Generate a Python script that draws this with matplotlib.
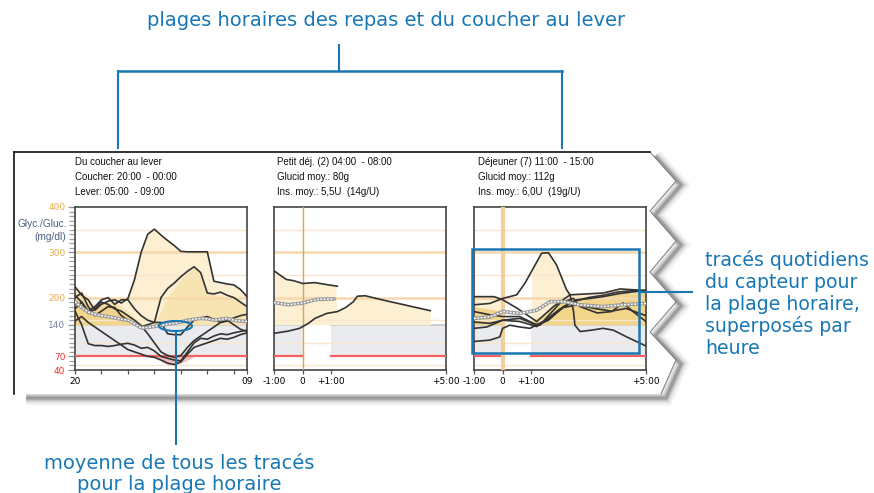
import numpy as np
import matplotlib
matplotlib.use("Agg")
import matplotlib.pyplot as plt
from matplotlib.patches import Ellipse, Rectangle, Polygon

# ---------------- data ----------------
# Overnight window: hours after 20:00 (20:00 -> 09:00)
night_x = [0, 0.5, 1, 1.5, 2, 2.5, 3, 3.5, 4, 4.5, 5, 5.5, 6, 6.5, 7, 7.5, 8, 8.5,
           9, 9.5, 10, 10.5, 11, 11.5, 12, 12.5, 13]
night_traces = [
    [224, 205, 195, 172, 185, 192, 195, 188, 198, 240, 300, 340, 351, 338, 326, 315, 302, 301,
     301, 301, 301, 236, 233, 230, 228, 218, 202],
    [205, 190, 170, 180, 195, 200, 185, 195, 195, 175, 160, 150, 145, 200, 220, 232, 246, 258,
     268, 255, 210, 208, 212, 205, 200, 190, 180],
    [170, 140, 98, 94, 94, 92, 94, 97, 99, 95, 88, 90, 82, 70, 66, 62, 60, 80,
     100, 110, 108, 115, 120, 118, 122, 125, 128],
    [148, 158, 145, 135, 125, 115, 105, 95, 85, 80, 75, 70, 68, 62, 55, 52, 58, 75,
     90, 95, 100, 105, 110, 108, 112, 118, 122],
    [175, 190, 165, 175, 190, 185, 175, 170, 160, 150, 138, 120, 100, 80, 72, 68, 72, 90,
     105, 115, 125, 135, 145, 150, 140, 130, 125],
    [200, 210, 180, 160, 170, 180, 178, 160, 150, 140, 135, 140, 145, 145, 120, 118, 118, 135,
     150, 155, 158, 152, 145, 148, 155, 160, 163],
]
night_mean = [191, 178, 168, 163, 160, 158, 155, 152, 150, 142, 133, 134, 136, 139, 141, 143, 146, 150,
              152, 154, 153, 150, 152, 154, 150, 148, 147]
night_outer = [224, 215, 205, 185, 190, 195, 195, 193, 198, 240, 300, 340, 351, 338, 326, 315, 302, 301,
               301, 301, 301, 236, 233, 230, 228, 218, 202]
night_mid = [215, 200, 190, 178, 185, 190, 188, 180, 170, 155, 145, 140, 140, 170, 200, 220, 240, 255,
             265, 255, 210, 205, 205, 200, 195, 190, 175]
night_inner_x = [0, 0.5, 1, 1.5, 2, 2.5, 3, 3.5, 4, 4.5]
night_inner = [210, 195, 185, 172, 180, 186, 182, 172, 160, 148]
night_low_x = [6, 6.5, 7, 7.5, 8, 8.5, 9]
night_low = [70, 60, 52, 50, 55, 62, 70]

# Breakfast window: hours relative to meal
bk_traces = [
    ([-1, -0.8, -0.57, -0.3, 0, 0.2, 0.43, 0.8, 1.21],
     [259, 250, 240, 237, 231, 232, 233, 229, 225]),
    ([-1, -0.5, -0.11, 0.2, 0.43, 0.84, 1.21, 1.5, 1.77, 1.91, 2.18, 2.7, 3.4, 4.1, 4.45],
     [121, 126, 132, 143, 154, 165, 169, 178, 191, 203, 204, 196, 186, 176, 171]),
]
bk_mean_x = [-1, -0.7, -0.5, 0, 0.5, 1.1]
bk_mean = [189, 186, 184, 188, 196, 197]
bk_band_x = [-1, -0.57, 0, 0.43, 1.15, 1.2, 1.5, 1.77, 1.91, 2.18, 2.7, 3.4, 4.1, 4.45]
bk_outer = [259, 240, 231, 233, 226, 169, 178, 191, 203, 204, 196, 186, 176, 171]

# Lunch window: hours relative to meal
ln_traces = [
    ([-1, -0.45, 0, 0.49, 0.78, 1.07, 1.36, 1.6, 1.88, 2.23, 2.35, 2.47, 2.52, 2.7, 3.1, 3.5, 3.86, 4.33, 5],
     [184, 187, 198, 206, 232, 265, 298, 299, 272, 217, 206, 170, 139, 125, 128, 132, 128, 113, 93]),
    ([-1, -0.3, 0, 0.49, 1.19, 1.77, 2.35, 3.5, 4.1, 4.6, 5],
     [202, 202, 195, 177, 147, 180, 206, 210, 219, 217, 216]),
    ([-1, -0.45, 0, 0.6, 1.07, 1.3, 2.0, 2.47, 2.7, 3.3, 3.8, 4.2, 4.55, 5],
     [169, 162, 158, 158, 143, 139, 188, 198, 180, 166, 169, 188, 169, 147]),
    ([-1, -0.55, 0, 0.6, 1.19, 1.6, 2.12, 2.58, 3.05, 3.5, 4.1, 5],
     [132, 135, 150, 154, 139, 150, 180, 195, 198, 202, 209, 216]),
    ([-1, -0.45, -0.1, 0, 0.25, 0.6, 0.95, 1.2, 1.5, 2.0, 2.5, 3.0, 3.5, 4.0, 4.5, 5],
     [103, 106, 113, 132, 139, 135, 132, 140, 150, 175, 192, 200, 205, 212, 215, 214]),
    ([-1, -0.45, 0, 0.6, 1.19, 1.54, 2.12, 2.6, 3.2, 3.8, 4.3, 5],
     [146, 143, 150, 147, 136, 150, 178, 184, 176, 170, 176, 160]),
]
ln_mean_x = [-1, -0.45, 0, 0.6, 1.19, 1.65, 2.12, 2.7, 3.5, 4.2, 5]
ln_mean = [154, 157, 169, 165, 172, 191, 191, 184, 180, 184, 187]
ln_band_x = [-1, -0.5, 0, 1.0, 1.36, 1.6, 1.88, 2.23, 2.5, 3.0, 3.5, 4.1, 4.6, 5]
ln_outer = [200, 200, 198, 255, 298, 299, 272, 217, 208, 210, 212, 219, 218, 216]
ln_inner = [180, 175, 170, 150, 160, 172, 185, 195, 198, 200, 203, 208, 210, 212]

meal_segments = [(-1, 0), (1, 5)]
target_low, target_high = 70, 140
y_ticks = [40, 70, 140, 200, 300, 400]
y_tick_colors = ["#f0302a", "#f0302a", "#7482a6", "#e8a847", "#e8a847", "#e8a847"]

headers = [
    ["Du coucher au lever", "Coucher: 20:00  - 00:00", "Lever: 05:00  - 09:00"],
    ["Petit déj. (2) 04:00  - 08:00", "Glucid moy.: 80g", "Ins. moy.: 5,5U  (14g/U)"],
    ["Déjeuner (7) 11:00  - 15:00", "Glucid moy.: 112g", "Ins. moy.: 6,0U  (19g/U)"],
]

# ---------------- styles ----------------
W, H = 874, 493
BLUE = "#1877b5"
LIGHT_Y = "#fcefd2"
MID_Y = "#f7e4b2"
DARK_Y = "#f2d48a"
GRAY_BAND = "#e9ebee"
TRACE = "#333333"

fig = plt.figure(figsize=(W / 100, H / 100), dpi=100)
fig.patch.set_facecolor("white")


def px_axes(zorder):
    a = fig.add_axes([0, 0, 1, 1], zorder=zorder)
    a.set_xlim(0, W)
    a.set_ylim(H, 0)
    a.axis("off")
    a.patch.set_alpha(0)
    return a


bg = px_axes(0)
fg = px_axes(10)

# torn paper sheet with drop shadow
zig = [(650, 152), (676, 181), (650, 211), (676, 241), (650, 272), (676, 302),
       (650, 332), (676, 360), (661, 394)]
shadow = [(p[0] + 5, p[1] + 4) for p in zig] + [(26, 398)]
sx, sy = zip(*shadow)
for lw, al in [(11, 0.05), (8, 0.08), (5.5, 0.12), (3.5, 0.18), (2, 0.22)]:
    bg.plot(sx, sy, color="#404040", lw=lw, alpha=al, solid_joinstyle="miter",
            solid_capstyle="butt", zorder=1)
paper = [(14, 152)] + zig + [(14, 394)]
bg.add_patch(Polygon(paper, closed=True, facecolor="white", edgecolor="none", zorder=2))
zx, zy = zip(*zig)
bg.plot(zx, zy, color="#7a7a7a", lw=0.7, zorder=3)
bg.plot([14, 650], [152, 152], color="#111111", lw=1.2, zorder=3)
bg.plot([14, 14], [152, 394], color="#111111", lw=1.2, zorder=3)

# chart panels
panel_px = [(75, 247), (274, 446), (474, 646)]
top_px, bot_px = 207, 370
axes = []
for (l, r) in panel_px:
    a = fig.add_axes([l / W, 1 - bot_px / H, (r - l) / W, (bot_px - top_px) / H], zorder=5)
    a.set_ylim(40, 400)
    for s in a.spines.values():
        s.set_color("#444444")
        s.set_linewidth(1.2)
    axes.append(a)

ax1, ax2, ax3 = axes


def grid(a):
    for v in [50, 100, 150, 250, 350]:
        a.axhline(v, color="#fbe5cc", lw=1.0, zorder=2.5)
    for v in [200, 300]:
        a.axhline(v, color="#f6d7ae", lw=1.8, zorder=2.5)


def mean_line(a, x, y):
    a.plot(x, y, color="#9a9a9a", lw=2.6, zorder=6, solid_capstyle="round")
    a.plot(x, y, color="white", lw=1.1, ls=(0, (1.2, 1.0)), zorder=7)


def band(a, x, hi, color, z, lo=None):
    x = np.array(x, dtype=float)
    hi = np.maximum(np.array(hi, dtype=float), target_high)
    a.fill_between(x, target_high, hi, color=color, lw=0, zorder=z)


# overnight panel
ax1.set_xlim(0, 13)
ax1.axhspan(target_low, target_high, color=GRAY_BAND, zorder=1, lw=0)
ax1.axhline(target_high, color="#c9cbce", lw=1.3, zorder=1.5)
band(ax1, night_x, night_outer, LIGHT_Y, 2)
band(ax1, night_x, night_mid, MID_Y, 2.1)
band(ax1, night_inner_x, night_inner, DARK_Y, 2.2)
ax1.fill_between(night_low_x, night_low, target_low, color="#f3bdbd", lw=0, zorder=2)
grid(ax1)
ax1.axhline(target_low, color="#f26060", lw=1.6, zorder=3)
for tr in night_traces:
    ax1.plot(night_x, tr, color=TRACE, lw=1.2, zorder=5)
mean_line(ax1, night_x, night_mean)
ax1.set_xticks([0, 2, 4, 6, 8, 10, 12, 13])
ax1.set_xticklabels(["20", "", "", "", "", "", "", "09"])
ax1.set_yticks(y_ticks)
ax1.set_yticklabels([str(v) for v in y_ticks])
for lbl, c in zip(ax1.get_yticklabels(), y_tick_colors):
    lbl.set_color(c)
ax1.set_yticks(np.arange(40, 401, 10), minor=True)
ax1.tick_params(axis="y", which="minor", length=4, width=0.9, color="#a0a0a0", left=True)
ax1.tick_params(axis="y", which="major", length=5, width=0.9, color="#909090", labelsize=6.5, pad=2)


def split(x, y, s0, s1):
    x = np.array(x, dtype=float)
    y = np.array(y, dtype=float)
    xs = np.concatenate([[s0], x[(x > s0) & (x < s1)], [s1]])
    return xs, np.interp(xs, x, y)


def meal_panel(a, traces, mx, my, bx, outer, inner=None, split_bands=False,
               line0="#e0a24f", lw0=1.0):
    a.set_xlim(-1, 5)
    for s0, s1 in meal_segments:
        a.fill_between([s0, s1], target_low, target_high, color=GRAY_BAND, lw=0, zorder=1)
        a.plot([s0, s1], [target_high, target_high], color="#c9cbce", lw=1.3, zorder=1.5)
        a.plot([s0, s1], [target_low, target_low], color="#f26060", lw=1.6, zorder=3)
    layers = [(outer, LIGHT_Y, 2)] + ([(inner, DARK_Y, 2.1)] if inner is not None else [])
    for hi, col, z in layers:
        if split_bands:
            for s0, s1 in meal_segments:
                xs, ys = split(bx, hi, s0, s1)
                band(a, xs, ys, col, z)
        else:
            band(a, bx, hi, col, z)
    grid(a)
    a.axvline(0, color=line0, lw=lw0, zorder=3)
    for x, y in traces:
        a.plot(x, y, color=TRACE, lw=1.2, zorder=5)
    mean_line(a, mx, my)
    a.set_xticks([-1, 0, 1, 5])
    a.set_xticklabels(["-1:00", "0", "+1:00", "+5:00"])
    a.set_yticks([])


meal_panel(ax2, bk_traces, bk_mean_x, bk_mean, bk_band_x, bk_outer)
meal_panel(ax3, ln_traces, ln_mean_x, ln_mean, ln_band_x, ln_outer, ln_inner,
           split_bands=True, line0="#f3cf9c", lw0=3)

for a in axes:
    a.tick_params(axis="x", length=3, width=0.9, color="#555555", labelsize=6.5, pad=2)

# panel headers
head_x = [75, 277, 478]
for hx, lines in zip(head_x, headers):
    for i, t in enumerate(lines):
        fg.text(hx, 162 + 14.8 * i, t, fontsize=7, color="#111111", va="center", ha="left",
                family="Liberation Sans")

fg.text(67, 224, "Glyc./Gluc.", fontsize=7.3, color="#4b6285", ha="right", va="center",
        family="Liberation Sans")
fg.text(66, 237, "(mg/dl)", fontsize=7.3, color="#4b6285", ha="right", va="center",
        family="Liberation Sans")

# callouts
fg.text(386, 21, "plages horaires des repas et du coucher au lever", fontsize=14, color=BLUE,
        ha="center", va="center", family="DejaVu Sans")
fg.plot([339, 339], [45, 71], color=BLUE, lw=1.5)
fg.plot([118, 562], [71, 71], color=BLUE, lw=1.8)
fg.plot([118, 118], [71, 148], color=BLUE, lw=1.5)
fg.plot([562, 562], [71, 148], color=BLUE, lw=1.5)

fg.add_patch(Rectangle((472, 249), 166.5, 103.5, fill=False, edgecolor=BLUE, lw=1.8))
fg.plot([638.5, 692], [292, 292], color=BLUE, lw=1.5)
right_lines = ["tracés quotidiens", "du capteur pour", "la plage horaire,", "superposés par", "heure"]
for i, t in enumerate(right_lines):
    fg.text(705, 260 + 22 * i, t, fontsize=13.6, color=BLUE, ha="left", va="center",
            family="DejaVu Sans")

fg.add_patch(Ellipse((175.5, 326), 33, 10, fill=False, edgecolor=BLUE, lw=1.5))
fg.plot([175.5, 175.5], [331, 444], color=BLUE, lw=1.5)
fg.text(179, 463, "moyenne de tous les tracés", fontsize=14, color=BLUE, ha="center", va="center",
        family="DejaVu Sans")
fg.text(179, 484, "pour la plage horaire", fontsize=14, color=BLUE, ha="center", va="center",
        family="DejaVu Sans")

fig.savefig("out.png", dpi=100, facecolor="white")
